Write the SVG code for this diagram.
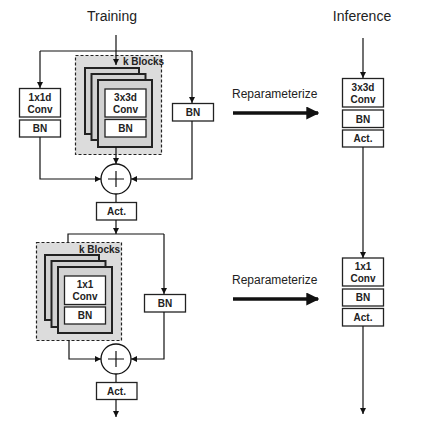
<svg xmlns="http://www.w3.org/2000/svg" width="430" height="426" viewBox="0 0 430 426">
<defs>
<marker id="ah" viewBox="0 0 10 10" refX="10" refY="5" markerWidth="6" markerHeight="6" markerUnits="userSpaceOnUse" orient="auto"><path d="M0,0 L10,5 L0,10 z" fill="#111"/></marker>
<marker id="big" viewBox="0 0 10 10" refX="9" refY="5" markerWidth="13" markerHeight="13" markerUnits="userSpaceOnUse" orient="auto"><path d="M0,0 L10,5 L0,10 z" fill="#111"/></marker>
</defs>
<style>
.t{font-family:"Liberation Sans",Arial,sans-serif;fill:#222}
.title{font-size:14px}
.rep{font-size:12px}
.lb{font-size:10px;font-weight:bold;text-anchor:middle}
.kb{font-size:10px;font-weight:bold}
.box{fill:#fff;stroke:#222;stroke-width:1.3}
.stk{fill:#d2d2d2;stroke:#222;stroke-width:2}
.dash{fill:#dcdcdc;stroke:#222;stroke-width:1.2;stroke-dasharray:3,2}
.ln{fill:none;stroke:#111;stroke-width:1.2}
.arr{fill:none;stroke:#111;stroke-width:1.2;marker-end:url(#ah)}
.thick{fill:none;stroke:#111;stroke-width:3.5;marker-end:url(#big)}
.add{fill:#fff;stroke:#111;stroke-width:1.3}
</style>
<rect width="430" height="426" fill="#fff"/>
<text class="t title" x="112" y="21" text-anchor="middle">Training</text>
<text class="t title" x="362" y="21" text-anchor="middle">Inference</text>

<g id="kblocks1">
<rect class="dash" x="75.5" y="55.5" width="86" height="99"/>
<text class="t kb" x="123" y="65">k Blocks</text>
<rect class="stk" x="85" y="68" width="54" height="66"/>
<rect class="stk" x="91.5" y="74" width="54" height="66"/>
<rect class="stk" x="98" y="80" width="54" height="67"/>
<rect class="box" x="105" y="89" width="41" height="28"/>
<text class="t lb" x="125.5" y="101">3x3d</text>
<text class="t lb" x="125.5" y="113">Conv</text>
<rect class="box" x="105" y="119.5" width="41" height="17.5"/>
<text class="t lb" x="125.5" y="132">BN</text>
</g>
<g id="conv1x1d">
<rect class="box" x="19.5" y="88.5" width="41" height="28.5"/>
<text class="t lb" x="40" y="100.5">1x1d</text>
<text class="t lb" x="40" y="112.5">Conv</text>
<rect class="box" x="19.5" y="120" width="41" height="17"/>
<text class="t lb" x="40" y="132">BN</text>
</g>
<g id="bn1">
<rect class="box" x="172.5" y="103.5" width="41" height="17.5"/>
<text class="t lb" x="193" y="116">BN</text>
</g>
<g id="add1">
<circle class="add" cx="116" cy="179" r="15"/>
<path class="ln" d="M108,179 H124 M116,171 V187"/>
</g>
<g id="act1">
<rect class="box" x="96.5" y="202.5" width="40" height="17.5"/>
<text class="t lb" x="116.5" y="215">Act.</text>
</g>

<g id="kblocks2">
<rect class="dash" x="36.5" y="242.5" width="85" height="98"/>
<text class="t kb" x="79" y="252.5">k Blocks</text>
<rect class="stk" x="45" y="255" width="54" height="65"/>
<rect class="stk" x="51.5" y="261" width="54" height="66"/>
<rect class="stk" x="58" y="267" width="54" height="66"/>
<rect class="box" x="64.5" y="276" width="41" height="28.5"/>
<text class="t lb" x="85" y="288">1x1</text>
<text class="t lb" x="85" y="300">Conv</text>
<rect class="box" x="64.5" y="307" width="41" height="17"/>
<text class="t lb" x="85" y="319">BN</text>
</g>
<g id="bn2">
<rect class="box" x="144.5" y="294.5" width="41" height="17.5"/>
<text class="t lb" x="165" y="307">BN</text>
</g>
<g id="add2">
<circle class="add" cx="116" cy="359" r="15"/>
<path class="ln" d="M108,359 H124 M116,351 V367"/>
</g>
<g id="act2">
<rect class="box" x="96.5" y="382.5" width="40.5" height="17"/>
<text class="t lb" x="116.5" y="394.5">Act.</text>
</g>

<g id="inf1">
<rect class="box" x="342.5" y="78.5" width="41" height="28.5"/>
<text class="t lb" x="363" y="90.5">3x3d</text>
<text class="t lb" x="363" y="102.5">Conv</text>
<rect class="box" x="342.5" y="110" width="41" height="17.5"/>
<text class="t lb" x="363" y="122.5">BN</text>
<rect class="box" x="342.5" y="130" width="41" height="17"/>
<text class="t lb" x="363" y="142">Act.</text>
</g>
<g id="inf2">
<rect class="box" x="342.5" y="258" width="41" height="28"/>
<text class="t lb" x="363" y="270">1x1</text>
<text class="t lb" x="363" y="282">Conv</text>
<rect class="box" x="342.5" y="289" width="41" height="17"/>
<text class="t lb" x="363" y="301">BN</text>
<rect class="box" x="342.5" y="308.5" width="41" height="17.5"/>
<text class="t lb" x="363" y="321">Act.</text>
</g>

<g id="rep1">
<text class="t rep" x="232" y="98">Reparameterize</text>
</g>
<g id="rep2">
<text class="t rep" x="232" y="284">Reparameterize</text>
</g>

<g id="connectors">
<path class="arr" d="M116,35 V65"/>
<path class="ln" d="M40,51 H192"/>
<path class="arr" d="M40,51 V88"/>
<path class="arr" d="M192,51 V103"/>
<path class="arr" d="M116,147 V164"/>
<path class="arr" d="M40,137 V179 H101"/>
<path class="arr" d="M192,121 V179 H131"/>
<path class="ln" d="M116,194 V202"/>
<path class="arr" d="M116,220 V234"/>
<path class="ln" d="M68,242 V234 H164"/>
<path class="arr" d="M164,234 V294"/>
<path class="arr" d="M69,340 V359 H101"/>
<path class="arr" d="M164,312 V359 H131"/>
<path class="ln" d="M116,374 V382"/>
<path class="arr" d="M116,399 V417"/>
<path class="arr" d="M363,38 V78"/>
<path class="arr" d="M363,147 V258"/>
<path class="arr" d="M363,326 V414"/>
<path class="thick" d="M233,113 H318"/>
<path class="thick" d="M233,299 H318"/>
</g>
</svg>
